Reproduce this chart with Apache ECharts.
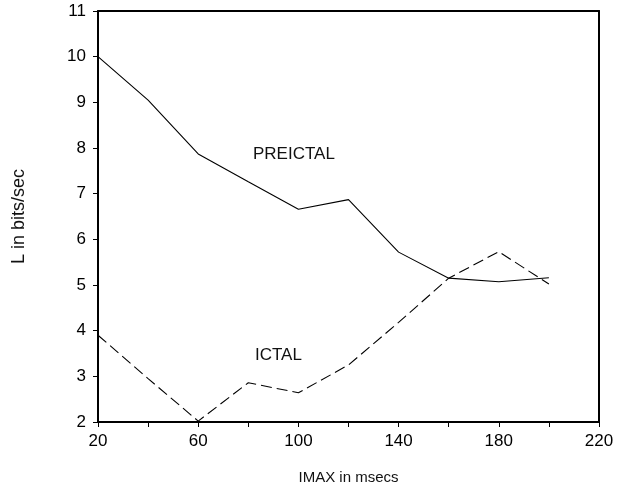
<!DOCTYPE html>
<html>
<head>
<meta charset="utf-8">
<script src="https://cdn.jsdelivr.net/npm/echarts@6/dist/echarts.min.js"></script>
<style>
  html, body { margin: 0; padding: 0; background: #fff; }
  #chart { width: 628px; height: 493px; }
</style>
</head>
<body>
<div id="chart"></div>
<script>
// IMAX values (msecs) on the horizontal axis
const imax = [20, 40, 60, 80, 100, 120, 140, 160, 180, 200];
// Information rate L (bits/sec)
const preictal = [10.0, 9.05, 7.87, 7.26, 6.66, 6.87, 5.72, 5.15, 5.07, 5.16];
const ictal = [3.9, 2.95, 2.02, 2.86, 2.64, 3.25, 4.18, 5.15, 5.73, 5.02];
// Axis ranges and labelled ticks
const xTickLabels = [20, 60, 100, 140, 180, 220];
const yRange = [2, 11];
const xRange = [20, 220];

const FONT = '"Liberation Sans", Arial, sans-serif';

const chart = echarts.init(document.getElementById('chart'), null, { renderer: 'canvas' });

const pairs = (ys) => imax.map((x, i) => [x, ys[i]]);

chart.setOption({
  animation: false,
  backgroundColor: '#ffffff',
  grid: { left: 98, top: 11, right: 29, bottom: 71, containLabel: false },
  xAxis: [{
    type: 'value',
    min: xRange[0], max: xRange[1], interval: 20,
    name: 'IMAX in msecs',
    nameLocation: 'middle',
    nameGap: 48,
    nameTextStyle: { color: '#111', fontFamily: FONT, fontSize: 15 },
    axisLine: { show: true, lineStyle: { color: '#000', width: 2 } },
    axisTick: { show: true, inside: false, length: 5, lineStyle: { color: '#000', width: 1 } },
    axisLabel: {
      color: '#000', fontFamily: FONT, fontSize: 17, margin: 11,
      formatter: (v) => xTickLabels.includes(v) ? String(v) : ''
    },
    splitLine: { show: false }
  }, {
    type: 'value', position: 'top',
    min: xRange[0], max: xRange[1], interval: 20,
    axisLine: { show: true, lineStyle: { color: '#000', width: 2 } },
    axisTick: { show: false }, axisLabel: { show: false }, splitLine: { show: false }
  }],
  yAxis: [{
    type: 'value',
    min: yRange[0], max: yRange[1], interval: 1,
    name: 'L in bits/sec',
    nameLocation: 'middle',
    nameGap: 70,
    nameRotate: 90,
    nameTextStyle: { color: '#111', fontFamily: FONT, fontSize: 18 },
    axisLine: { show: true, lineStyle: { color: '#000', width: 2 } },
    axisTick: { show: true, inside: false, length: 5, lineStyle: { color: '#000', width: 1 } },
    axisLabel: { color: '#000', fontFamily: FONT, fontSize: 17, margin: 12 },
    splitLine: { show: false }
  }, {
    type: 'value', position: 'right',
    min: yRange[0], max: yRange[1], interval: 1,
    axisLine: { show: true, lineStyle: { color: '#000', width: 2 } },
    axisTick: { show: false }, axisLabel: { show: false }, splitLine: { show: false }
  }],
  series: [{
    name: 'PREICTAL',
    type: 'line',
    data: pairs(preictal),
    showSymbol: false,
    lineStyle: { color: '#000', width: 1.1, type: 'solid' }
  }, {
    name: 'ICTAL',
    type: 'line',
    data: pairs(ictal),
    showSymbol: false,
    lineStyle: { color: '#000', width: 1.1, type: [11, 5] }
  }],
  graphic: [{
    type: 'text', left: 253, top: 146,
    style: { text: 'PREICTAL', fill: '#111', font: '17px ' + FONT }
  }, {
    type: 'text', left: 255, top: 347,
    style: { text: 'ICTAL', fill: '#111', font: '17px ' + FONT }
  }]
});
</script>
</body>
</html>
